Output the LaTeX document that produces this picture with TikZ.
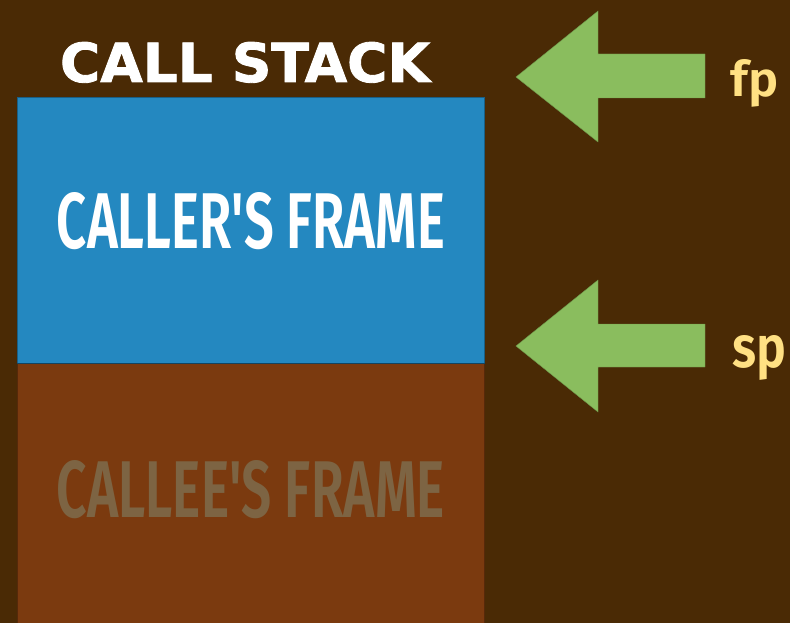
\documentclass[tikz,border=0pt]{standalone}
\usepackage{fontspec}
\setmainfont{Fira Sans}[BoldFont={Fira Sans SemiBold}]
\newfontfamily\headfont{DejaVu Sans}[BoldFeatures={FakeBold=1.6}]
\usepackage{graphicx}
\definecolor{bgbrown}{HTML}{4A2A05}
\definecolor{callerblue}{HTML}{2488C0}
\definecolor{calleebrown}{HTML}{7B3A0F}
\definecolor{arrowgreen}{HTML}{8ABD5E}
\definecolor{ptrtext}{HTML}{FFE083}
\definecolor{calleetext}{HTML}{7D6443}
\tikzset{
  framebox/.style={draw=#1!70!black, line width=0.8pt, inner sep=0pt, minimum width=467pt, minimum height=266pt},
  ptrarrow/.style={fill=arrowgreen, draw=arrowgreen!80!black, line width=0.4pt},
  ptrlabel/.style={text=ptrtext, inner sep=0pt, anchor=base west},
}
\begin{document}
\begin{tikzpicture}[x=1pt,y=-1pt]
\useasboundingbox (0,0) rectangle (790,623);
\fill[bgbrown] (0,0) rectangle (790,623);
% boxes
\node[framebox=callerblue, fill=callerblue, anchor=north west] (caller) at (17,97) {};
\node[framebox=calleebrown, fill=calleebrown, anchor=north west, minimum height=262pt] (callee) at (17,363) {};
\draw[callerblue!50!black, line width=0.8pt] (caller.south west) -- (caller.south east);
% title
\node[inner sep=0pt, anchor=base, text=white] (title) at (245,82) {\resizebox{370pt}{40pt}{\headfont\bfseries CALL STACK}};
\node[inner sep=0pt, anchor=base, text=white] (callertxt) at (251,248) {\resizebox{388pt}{56pt}{\bfseries CALLER\textquotesingle S FRAME}};
\node[inner sep=0pt, anchor=base, text=calleetext] (calleetxt) at (251,517) {\resizebox{388pt}{57pt}{\bfseries CALLEE\textquotesingle S FRAME}};
% fp arrow
\filldraw[ptrarrow] (516,77) -- (598,11) -- (598,54) -- (705,54) -- (705,98) -- (598,98) -- (598,142) -- cycle;
\coordinate (fptip) at (516,77);
\node[ptrlabel] (fp) at (730,97) {\resizebox{48pt}{37pt}{\bfseries fp}};
% sp arrow
\filldraw[ptrarrow] (516,346) -- (598,280) -- (598,324) -- (705,324) -- (705,367) -- (598,367) -- (598,412) -- cycle;
\coordinate (sptip) at (516,346);
\node[ptrlabel] (sp) at (732,367) {\resizebox{54pt}{32pt}{\bfseries sp}};
\end{tikzpicture}
\end{document}
